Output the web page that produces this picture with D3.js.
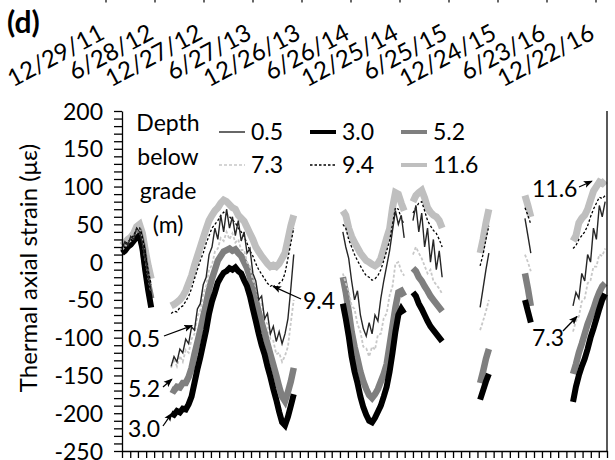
<!DOCTYPE html>
<html><head><meta charset="utf-8">
<script src="https://cdn.jsdelivr.net/npm/d3@7"></script>
<style>
body{margin:0;background:#fff}
svg{display:block}
text{font-family:Lato,"Open Sans","DejaVu Sans",sans-serif;fill:#000}
</style>
</head><body>
<svg id="chart" width="615" height="460"></svg>
<script>
// ---------- data ----------
const segStarts = ["2012-01-01","2012-07-04","2014-04-12","2015-01-01","2015-09-11","2016-02-27","2016-08-26"];
const stepDays = 11;
const depths = ["0.5","3.0","5.2","7.3","9.4","11.6"];
const dateLabels = ["12/29/11","6/28/12","12/27/12","6/27/13","12/26/13","6/26/14","12/25/14","6/25/15","12/24/15","6/23/16","12/22/16"];
const yTickValues = [200,150,100,50,0,-50,-100,-150,-200,-250];

const s05 = [
  [18,27,22,34,30,45,40,25,2,-20,-38],
  [-138,-125,-132,-115,-120,-102,-108,-86,-90,-62,-55,-30,-20,10,20,45,30,62,40,70,45,60,35,55,28,40,12,18,-15,-25,-50,-45,-75,-68,-95,-85,-105,-92,-108,-95,-75,-35,10],
  [40,20,5,-25,-50,-38,-70,-88,-98,-80,-95,-70,-78,-48,-25,-5,15,42,68,50,62,32],
  [55,75,40,65,20,45,0,30,-10,15,-20],
  [-60,-35,-10,12],
  [58,35,12],
  [-58,-40,-48,-15,-25,10,0,45,30,75,60,80]
];
const s30 = [
  [12,15,20,23,28,33,35,18,-12,-38,-60],
  [-200,-202,-197,-199,-194,-195,-188,-178,-160,-142,-126,-108,-90,-68,-52,-40,-27,-20,-14,-12,-8,-10,-7,-12,-15,-24,-32,-45,-62,-78,-95,-110,-122,-138,-152,-168,-182,-198,-212,-216,-205,-190,-175],
  [-55,-75,-98,-125,-145,-160,-178,-192,-202,-210,-212,-206,-198,-190,-178,-165,-145,-120,-92,-70,-62,-68],
  [-40,-45,-55,-62,-70,-78,-85,-90,-95,-100,-105],
  [-182,-170,-158,-148],
  [-50,-65,-80],
  [-185,-165,-150,-138,-128,-115,-100,-88,-75,-62,-50,-42]
];
const s52 = [
  [14,17,22,25,30,36,38,22,-5,-30,-48],
  [-168,-170,-165,-166,-160,-160,-152,-140,-122,-106,-90,-72,-55,-36,-22,-10,2,8,14,16,18,15,17,12,8,0,-8,-20,-35,-50,-66,-80,-93,-108,-122,-136,-150,-165,-178,-184,-172,-158,-140],
  [-20,-40,-65,-92,-112,-128,-145,-158,-168,-176,-180,-175,-168,-158,-148,-135,-110,-85,-60,-40,-38,-45],
  [-8,-12,-20,-25,-32,-38,-45,-50,-55,-60,-65],
  [-160,-145,-128,-115],
  [-15,-35,-58],
  [-148,-135,-120,-108,-95,-82,-72,-62,-50,-40,-32,-28]
];
const s73 = [
  [16,20,25,28,33,40,42,28,3,-20,-40],
  [-140,-128,-138,-124,-132,-116,-120,-102,-95,-72,-64,-42,-32,-10,-4,14,18,32,28,40,30,38,26,30,16,16,0,-6,-24,-32,-50,-56,-76,-82,-102,-104,-122,-120,-132,-124,-112,-80,-50],
  [-15,-28,-38,-58,-62,-82,-92,-112,-114,-125,-112,-116,-96,-95,-74,-68,-44,-32,-2,0,-12,-18],
  [10,20,12,5,-5,-15,-10,-25,-30,-35,-42],
  [-90,-78,-65,-50],
  [10,0,-12],
  [-92,-78,-72,-52,-48,-28,-24,-6,-6,10,8,18]
];
const s94 = [
  [20,24,27,31,35,44,46,33,10,-12,-30],
  [-68,-65,-66,-60,-58,-52,-45,-35,-22,-10,2,12,25,35,45,50,55,62,66,63,60,56,52,45,40,34,25,15,8,-2,-10,-16,-22,-28,-32,-30,-35,-28,-25,-15,5,25,45],
  [50,45,30,20,10,2,-5,-12,-18,-20,-24,-22,-18,-10,2,15,28,50,72,70,58,50],
  [65,72,78,80,68,55,48,42,38,30,20],
  [-5,10,30,48],
  [72,62,50],
  [18,22,30,35,40,48,60,70,78,86,84,88]
];
const s116 = [
  [22,26,30,33,38,47,50,38,15,-5,-22],
  [-58,-56,-53,-50,-45,-38,-28,-18,-4,8,20,32,44,55,62,68,72,78,82,80,76,72,70,62,58,54,46,38,30,20,14,8,3,-2,-6,-4,-6,-2,5,12,30,48,62],
  [68,62,45,34,26,19,12,7,2,0,-3,-5,-2,5,18,32,44,72,92,90,78,68],
  [80,88,92,95,85,72,66,62,60,55,45],
  [12,30,52,70],
  [88,75,60],
  [28,35,52,58,62,70,82,94,100,106,104,108]
];
// annotation labels and the (date, value) they point to
const annotLabels = ["0.5","5.2","3.0","9.4","11.6","7.3"];
const annotDates  = ["2012-09-21","2012-07-07","2012-07-07","2013-07-23","2016-11-05","2016-09-10"];
const annotValues = [-84,-155,-200,-32,107,-72];

// ---------- layout / style ----------
const plot = {left:122, right:607, top:111, bottom:451};
const styles = {
  "0.5": {stroke:"#262626", width:1.4, dash:null},
  "3.0": {stroke:"#000000", width:6,   dash:null},
  "5.2": {stroke:"#7f7f7f", width:6.5, dash:null},
  "7.3": {stroke:"#c8c8c8", width:1.8, dash:"3,2"},
  "9.4": {stroke:"#000000", width:1.3, dash:"2.5,2"},
  "11.6":{stroke:"#bfbfbf", width:7,   dash:null}
};
const legendWidth = {"0.5":1.4,"3.0":4,"5.2":4,"7.3":1.5,"9.4":1.3,"11.6":4};
const seriesByDepth = {"0.5":s05,"3.0":s30,"5.2":s52,"7.3":s73,"9.4":s94,"11.6":s116};
const drawOrder = ["11.6","5.2","3.0","7.3","9.4","0.5"];
const annotText = [[128,347],[128,397],[128,437],[303,309],[532,197],[532,346]];
const annotFrom = [[164,336],[163,387],[163,426],[301,299],[579,187],[563,331]];

const parse = d3.utcParse("%Y-%m-%d");
const svg = d3.select("#chart");

const x = d3.scaleUtc().domain([parse("2012-01-01"), parse("2017-01-01")]).range([plot.left, plot.right]);
const y = d3.scaleLinear().domain([-250,200]).range([plot.bottom, plot.top]);

// series paths
const line = d3.line().x(d=>x(d.date)).y(d=>y(d.v));
drawOrder.forEach(dep=>{
  const st = styles[dep];
  seriesByDepth[dep].forEach((seg,si)=>{
    const start = parse(segStarts[si]);
    const pts = seg.map((v,i)=>({date:d3.utcDay.offset(start,i*stepDays), v}));
    svg.append("path").datum(pts)
      .attr("d",line).attr("fill","none")
      .attr("stroke",st.stroke).attr("stroke-width",st.width)
      .attr("stroke-dasharray",st.dash)
      .attr("stroke-linejoin","miter").attr("stroke-linecap","butt");
  });
});

// axes
const yAxis = d3.axisLeft(y).tickValues(d3.range(-250,201,10)).tickSize(8).tickSizeOuter(0)
  .tickPadding(11).tickFormat(d=> yTickValues.includes(d) ? d : "");
const gy = svg.append("g").attr("transform",`translate(${plot.left},0)`).call(yAxis);
gy.selectAll("text").style("font-size","23px").attr("dy","0.35em");
gy.selectAll("line,path").attr("stroke","#000").attr("stroke-width",1.3);

const xAxis = d3.axisBottom(x).ticks(d3.utcMonth.every(1)).tickSize(7).tickSizeOuter(0).tickFormat("");
const gx = svg.append("g").attr("transform",`translate(0,${plot.bottom})`).call(xAxis);
gx.selectAll("line,path").attr("stroke","#000").attr("stroke-width",1.3);

// right frame line
svg.append("line").attr("x1",plot.right).attr("x2",plot.right).attr("y1",plot.top).attr("y2",plot.bottom)
  .attr("stroke","#000").attr("stroke-width",1.3);

// top date labels
const xl = d3.scalePoint().domain(dateLabels).range([106,596]);
svg.append("g").selectAll("text").data(dateLabels).join("text")
  .attr("transform",d=>`translate(${xl(d)},38) rotate(-28)`)
  .attr("text-anchor","end").style("font-size","24px").text(d=>d);
// tiny remnants of ticks from the panel above
const xt = d3.scalePoint().domain(dateLabels).range([106,596]);
svg.append("g").selectAll("line").data(dateLabels).join("line")
  .attr("x1",d=>xt(d)).attr("x2",d=>xt(d)).attr("y1",0).attr("y2",2.5)
  .attr("stroke","#000").attr("stroke-width",1.2);

// panel letter
svg.append("text").attr("x",7).attr("y",33).style("font-size","30px").style("font-weight","bold").text("(d)");

// y title
svg.append("text").attr("transform","translate(37,268) rotate(-90)").attr("text-anchor","middle")
  .style("font-size","24px").text("Thermal axial strain (με)");

// legend
const legTitle = ["Depth","below","grade","(m)"];
svg.append("g").selectAll("text").data(legTitle).join("text")
  .attr("x",168).attr("y",(d,i)=>131+i*34).attr("text-anchor","middle").style("font-size","23px").text(d=>d);
const legCols = [251,342,433], legRows = [140,173];
const lg = svg.append("g");
depths.forEach((dep,i)=>{
  const cx = legCols[i%3], cy = legRows[Math.floor(i/3)];
  const st = styles[dep];
  lg.append("line").attr("x1",cx-32).attr("x2",cx-6).attr("y1",cy-8).attr("y2",cy-8)
    .attr("stroke",st.stroke).attr("stroke-width",legendWidth[dep]).attr("stroke-dasharray",st.dash);
  lg.append("text").attr("x",cx).attr("y",cy).style("font-size","23px").text(dep);
});

// annotations
svg.append("defs").append("marker").attr("id","arr").attr("viewBox","0 -4 9 8")
  .attr("refX",8).attr("refY",0).attr("markerWidth",9).attr("markerHeight",8)
  .attr("markerUnits","userSpaceOnUse").attr("orient","auto")
  .append("path").attr("d","M0,-3.5L9,0L0,3.5L2,0Z").attr("fill","#000");
annotLabels.forEach((lab,i)=>{
  svg.append("text").attr("x",annotText[i][0]).attr("y",annotText[i][1]).style("font-size","23px").text(lab);
  svg.append("line").attr("x1",annotFrom[i][0]).attr("y1",annotFrom[i][1])
    .attr("x2",x(parse(annotDates[i]))).attr("y2",y(annotValues[i]))
    .attr("stroke","#000").attr("stroke-width",1.3).attr("marker-end","url(#arr)");
});
</script>
</body></html>
